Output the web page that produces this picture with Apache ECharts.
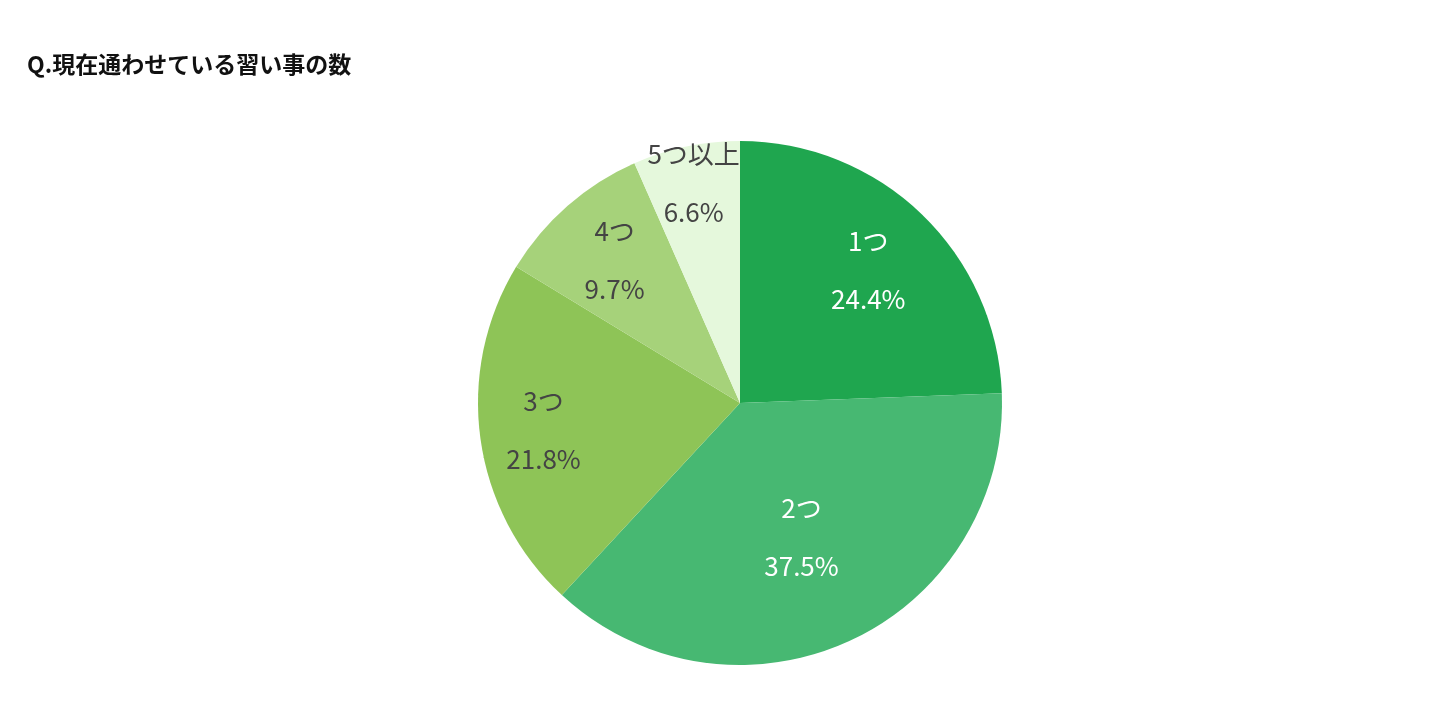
<!DOCTYPE html>
<html><head><meta charset="utf-8">
<script src="https://cdn.jsdelivr.net/npm/echarts@6/dist/echarts.min.js"></script>
<style>html,body{margin:0;background:#fff}#c{width:1435px;height:711px}</style>
</head><body><div id="c"></div>
<script>
// 習い事の数
const categories = ['1つ', '2つ', '3つ', '4つ', '5つ以上']
const values = [24.4, 37.5, 21.8, 9.7, 6.6]
const colors = ['#1fa64f', '#47b872', '#8ec457', '#a6d27a', '#e5f8dc']
const labelColors = ['#fff', '#fff', '#444', '#444', '#444']
// ラベル位置の半径倍率
const labelScale = [1.38, 1.1, 1.48, 1.42, 1.68]

const cx = 740, cy = 403
const chart = echarts.init(document.getElementById('c'))
chart.setOption({
    animation: false,
    title: {
        text: 'Q.現在通わせている習い事の数',
        left: 22, top: 48,
        textStyle: {fontFamily: 'Noto Sans CJK JP', fontSize: 23, fontWeight: 'bold', color: '#111'}
    },
    series: [{
        type: 'pie',
        center: [cx, cy],
        radius: 262,
        startAngle: 90,
        clockwise: true,
        label: {
            position: 'inside',
            formatter: p => p.name + '\n' + p.value.toFixed(1) + '%',
            fontFamily: 'Noto Sans CJK JP',
            fontSize: 26,
            lineHeight: 58
        },
        itemStyle: {borderColor: '#fff', borderWidth: 0},
        labelLayout: p => {
            const k = labelScale[p.dataIndex]
            const x = p.labelRect.x + p.labelRect.width / 2
            const y = p.labelRect.y + p.labelRect.height / 2
            return {x: cx + (x - cx) * k, y: cy + (y - cy) * k, align: 'center', verticalAlign: 'middle'}
        },
        data: categories.map((c, i) => ({
            name: c, value: values[i],
            itemStyle: {color: colors[i]},
            label: {color: labelColors[i]}
        }))
    }]
})
</script></body></html>
